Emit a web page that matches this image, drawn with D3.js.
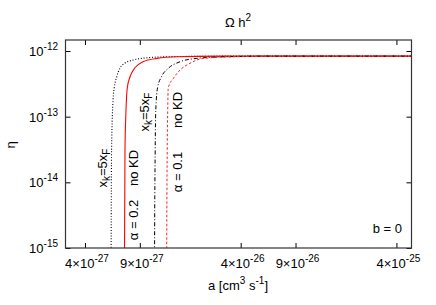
<!DOCTYPE html>
<html><head><meta charset="utf-8">
<script src="https://cdn.jsdelivr.net/npm/d3@7"></script>
<style>
body{margin:0;background:#fff;}
text{font-family:"Liberation Sans",Arial,Helvetica,sans-serif;fill:#000;}
</style></head>
<body><svg id="c" width="436" height="305"></svg>
<script>
// ---- data ----
const xTicks = [4e-27, 9e-27, 4e-26, 9e-26, 4e-25];
const xTickLabels = [["4×10","-27"],["9×10","-27"],["4×10","-26"],["9×10","-26"],["4×10","-25"]];
const yTicks = [1e-12, 1e-13, 1e-14, 1e-15];
const yTickLabels = [["10","-12"],["10","-13"],["10","-14"],["10","-15"]];

const dottedA   = [5.86e-27, 5.89e-27, 5.93e-27, 6.06e-27, 6.17e-27, 6.40e-27, 6.72e-27, 7.23e-27, 8.14e-27, 1.00e-26, 1.35e-26, 2.2e-26, 5e-26, 5e-25];
const dottedEta = [1e-17, 1e-15, 3.1e-14, 1.8e-13, 2.75e-13, 4.05e-13, 5.5e-13, 6.55e-13, 7.27e-13, 7.88e-13, 8.16e-13, 8.3e-13, 8.36e-13, 8.36e-13];

const redA   = [7.16e-27, 7.18e-27, 7.23e-27, 7.34e-27, 7.48e-27, 7.79e-27, 8.38e-27, 9.44e-27, 1.16e-26, 1.56e-26, 2.95e-26, 5e-25];
const redEta = [1e-17, 1e-15, 3.1e-14, 1.26e-13, 2.75e-13, 4.05e-13, 5.55e-13, 6.85e-13, 7.71e-13, 8.16e-13, 8.36e-13, 8.36e-13];

const dashdotA   = [1.115e-26, 1.12e-26, 1.13e-26, 1.14e-26, 1.17e-26, 1.24e-26, 1.37e-26, 1.63e-26, 2.09e-26, 3.17e-26, 6.2e-26, 5e-25];
const dashdotEta = [1e-17, 1e-15, 3.1e-14, 1.26e-13, 2.75e-13, 4.05e-13, 5.43e-13, 6.85e-13, 7.71e-13, 8.16e-13, 8.36e-13, 8.36e-13];

const redDashA   = [1.335e-26, 1.34e-26, 1.35e-26, 1.36e-26, 1.37e-26, 1.48e-26, 1.63e-26, 1.89e-26, 2.29e-26, 3.68e-26, 8.3e-26, 5e-25];
const redDashEta = [1e-17, 1e-15, 3.1e-14, 1.26e-13, 2.75e-13, 3.83e-13, 5.12e-13, 6.48e-13, 7.71e-13, 8.16e-13, 8.36e-13, 8.36e-13];

// ---- layout ----
const L = 65.5, R = 411.5, T = 40, B = 248;
const FS = 13, SS = 10;
const svg = d3.select("#c");
const x = d3.scaleLog().domain([3e-27, 5e-25]).range([L, R]);
const y = d3.scaleLog().domain([1e-15, 1.47e-12]).range([B, T]);

svg.append("clipPath").attr("id","clip").append("rect")
  .attr("x", L).attr("y", T).attr("width", R-L).attr("height", B-T);

const series = [
  {a: dottedA, e: dottedEta, color:"#000", dash:"1,1.8", w:1.1},
  {a: redA, e: redEta, color:"#ff0000", dash:null, w:1.1},
  {a: dashdotA, e: dashdotEta, color:"#000", dash:"4,2,1,2", w:1},
  {a: redDashA, e: redDashEta, color:"#ff2020", dash:"2.5,2", w:1}
];
const line = d3.line().x(d=>x(d[0])).y(d=>y(d[1])).curve(d3.curveMonotoneX);
const g = svg.append("g").attr("clip-path","url(#clip)");
series.forEach(s=>{
  g.append("path").datum(s.a.map((v,i)=>[v, s.e[i]]))
   .attr("d", line).attr("fill","none").attr("stroke", s.color)
   .attr("stroke-width", s.w).attr("stroke-dasharray", s.dash);
});

// ---- axes ----
const tl = 5;
const axB = d3.axisBottom(x).tickValues(xTicks).tickSizeInner(-tl).tickSizeOuter(0).tickFormat("");
const axT = d3.axisTop(x).tickValues(xTicks).tickSizeInner(-tl).tickSizeOuter(0).tickFormat("");
const axL = d3.axisLeft(y).tickValues(yTicks).tickSizeInner(-tl).tickSizeOuter(0).tickFormat("");
const axR = d3.axisRight(y).tickValues(yTicks).tickSizeInner(-tl).tickSizeOuter(0).tickFormat("");
[[axB,`translate(0,${B})`],[axT,`translate(0,${T})`],[axL,`translate(${L},0)`],[axR,`translate(${R},0)`]].forEach(([ax,tr])=>{
  const gg = svg.append("g").attr("transform", tr).call(ax);
  gg.select(".domain").remove();
  gg.selectAll("line").attr("stroke","#000").attr("stroke-width",1);
});
svg.append("rect").attr("x",L).attr("y",T).attr("width",R-L).attr("height",B-T)
  .attr("fill","none").attr("stroke","#333").attr("stroke-width",1.2);

// tick labels
xTicks.forEach((v,i)=>{
  const t = svg.append("text").attr("x", x(v)+2).attr("y", 268).attr("text-anchor","middle").attr("font-size",FS);
  t.append("tspan").text(xTickLabels[i][0]);
  t.append("tspan").attr("dy",-6).attr("font-size",SS).text(xTickLabels[i][1]);
});
yTicks.forEach((v,i)=>{
  const t = svg.append("text").attr("x", 58).attr("y", y(v)+5).attr("text-anchor","end").attr("font-size",FS);
  t.append("tspan").text(yTickLabels[i][0]);
  t.append("tspan").attr("dy",-6).attr("font-size",SS).text(yTickLabels[i][1]);
});

// titles
const ti = svg.append("text").attr("x", 238).attr("y", 27).attr("text-anchor","middle").attr("font-size",FS);
ti.append("tspan").text("Ω h");
ti.append("tspan").attr("dy",-6).attr("font-size",SS).text("2");

const xl = svg.append("text").attr("x", 238).attr("y", 290).attr("text-anchor","middle").attr("font-size",FS);
xl.append("tspan").text("a [cm");
xl.append("tspan").attr("dy",-6).attr("font-size",SS).text("3");
xl.append("tspan").attr("dy",6).text(" s");
xl.append("tspan").attr("dy",-6).attr("font-size",SS).text("-1");
xl.append("tspan").attr("dy",6).text("]");

svg.append("text").attr("transform","translate(15,145) rotate(-90)").attr("text-anchor","middle")
  .attr("font-size",FS).text("η");

svg.append("text").attr("x", 402).attr("y", 233).attr("text-anchor","end").attr("font-size",FS).text("b = 0");

// rotated curve labels
function xk(cx, cy){
  const t = svg.append("text").attr("transform",`translate(${cx},${cy}) rotate(-90)`).attr("text-anchor","middle").attr("font-size",FS);
  t.append("tspan").text("x");
  t.append("tspan").attr("dy",3).attr("font-size",SS).text("k");
  t.append("tspan").attr("dy",-3).text("=5x");
  t.append("tspan").attr("dy",3).attr("font-size",SS).text("F");
}
function lab(cx, cy, s){
  svg.append("text").attr("transform",`translate(${cx},${cy}) rotate(-90)`).attr("text-anchor","middle").attr("font-size",FS).text(s);
}
xk(107, 168);
lab(138, 168, "no KD");
lab(138, 220, "α = 0.2");
xk(149, 112);
lab(182, 110, "no KD");
lab(182, 172, "α = 0.1");
</script></body></html>
